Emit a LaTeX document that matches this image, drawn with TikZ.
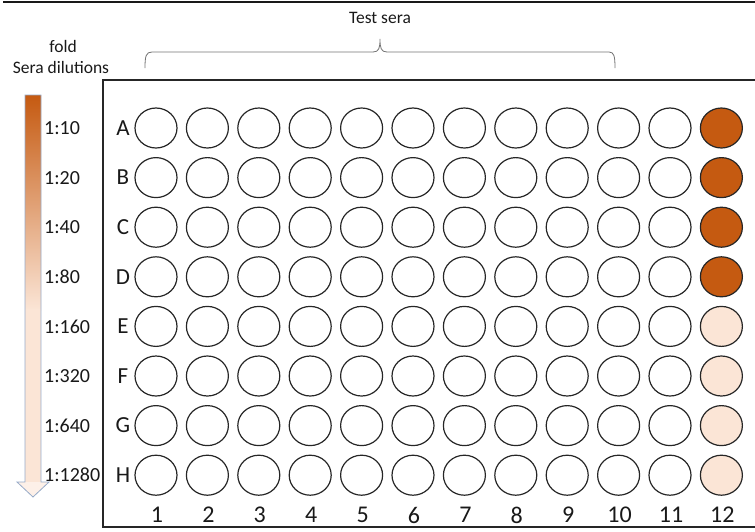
\documentclass[tikz,border=0pt]{standalone}
\usepackage{fontspec}
\setmainfont{Carlito}
\usetikzlibrary{shapes.geometric}
\definecolor{darkor}{RGB}{197,90,17}
\definecolor{lightor}{RGB}{251,229,214}
\definecolor{headfill}{RGB}{253,240,232}
\definecolor{arrowline}{RGB}{150,170,200}
\definecolor{txt}{RGB}{25,25,25}
\tikzset{
  well/.style={ellipse,draw=black!85,line width=1.2pt,minimum width=42pt,minimum height=40pt,inner sep=0pt},
  strong/.style={well,fill=darkor},
  faint/.style={well,fill=lightor},
  rowlab/.style={font=\fontsize{23}{26}\selectfont,text=txt,inner sep=0pt},
  collab/.style={font=\fontsize{24}{27}\selectfont,text=txt,inner sep=0pt},
  dillab/.style={font=\fontsize{20}{23}\selectfont,text=txt,inner sep=0pt,anchor=west},
  toplab/.style={font=\fontsize{17.5}{20}\selectfont,text=txt,inner sep=0pt},
}
\begin{document}
\begin{tikzpicture}[x=1pt,y=-1pt]
\useasboundingbox (0,0) rectangle (755,531);
% top rule
\draw[line width=1.5pt,black!90] (3,2) -- (755,2);
% plate
\draw[line width=1.5pt,black!85] (755,80) -- (103,80) -- (103,527) -- (755,527);
% wells
\foreach \r [count=\i from 0] in {A,B,C,D,E,F,G,H}{
  \pgfmathsetmacro{\yy}{128+49.6*\i}
  \node[rowlab] (lab\r) at (123,\yy) {\r};
  \foreach \c in {1,...,11}{
    \pgfmathsetmacro{\xx}{156+51.4*(\c-1)}
    \node[well] (w\r\c) at (\xx,\yy) {};
  }
  \pgfmathsetmacro{\xx}{156+51.4*11}
  \ifnum\i<4
    \node[strong] (w\r12) at (\xx,\yy) {};
  \else
    \node[faint] (w\r12) at (\xx,\yy) {};
  \fi
}
\foreach \c in {1,...,12}{
  \pgfmathsetmacro{\xx}{157+51.4*(\c-1)}
  \node[collab] (col\c) at (\xx,515) {\c};
}
% dilution arrow
\shade[top color=darkor,bottom color=lightor] (25,95) rectangle (41,310);
\fill[lightor] (25,309) rectangle (41,482);
\fill[headfill] (17,482) -- (25,482) -- (41,482) -- (49,482) -- (33,497) -- cycle;
\draw[arrowline,line width=0.8pt,line join=miter] (25,95) -- (41,95) -- (41,482) -- (49,482) -- (33,497) -- (17,482) -- (25,482) -- cycle;
% dilution labels
\foreach \d [count=\i from 0] in {1:10,1:20,1:40,1:80,1:160,1:320,1:640,1:1280}{
  \pgfmathsetmacro{\yy}{128+49.6*\i}
  \node[dillab] (d\i) at (44,\yy) {\d};
}
\node[toplab] (fold) at (63,46) {fold};
\node[toplab] (sdil) at (61,67) {Sera dilutions};
% brace
\draw[black!55,line width=0.8pt] (145,68) .. controls (145,56) and (146,52) .. (152,52) -- (373,52) .. controls (379,52) and (380,48) .. (380,39)
  .. controls (380,48) and (381,52) .. (387,52) -- (609,52) .. controls (614,52) and (615,56) .. (615,68);
\node[toplab] (tsera) at (380,18) {Test sera};
\end{tikzpicture}
\end{document}
